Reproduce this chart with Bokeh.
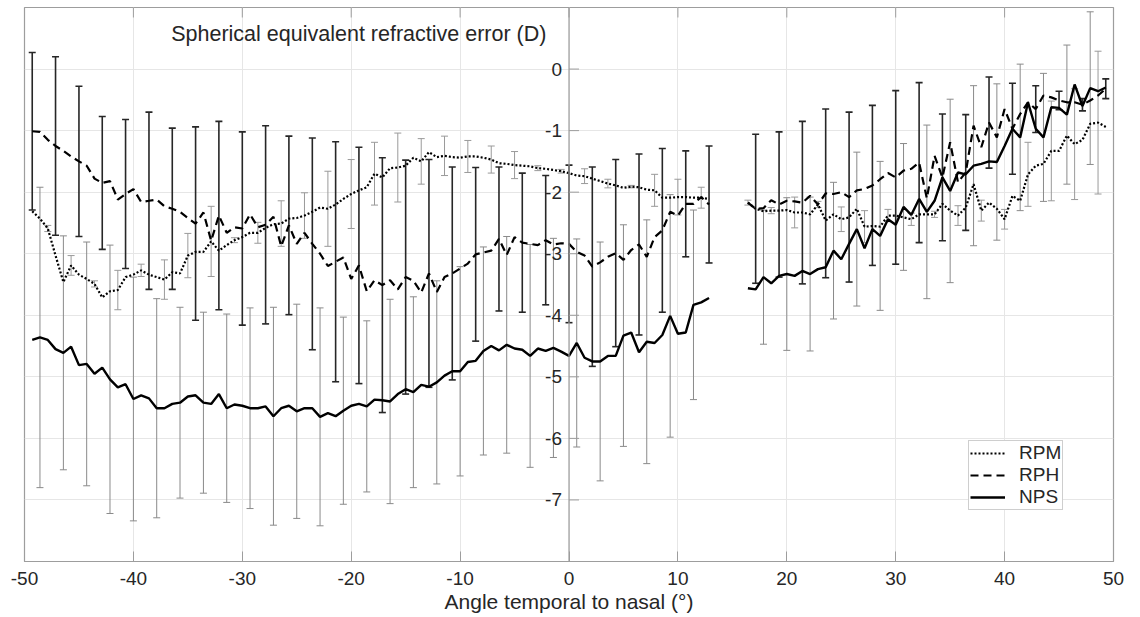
from bokeh.plotting import figure
from bokeh.models import (Range1d, FixedTicker, ColumnDataSource, Whisker, TeeHead,
                          Span, Legend, LegendItem, Label)
from bokeh.core.properties import value
from bokeh.embed import file_html
from bokeh.resources import INLINE
import numpy as np

# ---------------- data ----------------
angle = [-49.29, -48.58, -47.86, -47.15, -46.43, -45.72, -45.00, -44.29, -43.57, -42.86,
         -42.15, -41.43, -40.72, -40.00, -39.29, -38.57, -37.86, -37.15, -36.43, -35.72,
         -35.00, -34.29, -33.57, -32.86, -32.15, -31.43, -30.72, -30.00, -29.29, -28.57,
         -27.86, -27.14, -26.43, -25.72, -25.00, -24.29, -23.57, -22.86, -22.14, -21.43,
         -20.72, -20.00, -19.29, -18.57, -17.86, -17.14, -16.43, -15.72, -15.00, -14.29,
         -13.57, -12.86, -12.14, -11.43, -10.72, -10.00, -9.29, -8.57, -7.86, -7.14,
         -6.43, -5.72, -5.00, -4.29, -3.57, -2.86, -2.14, -1.43, -0.72, 0.00,
         0.71, 1.43, 2.14, 2.86, 3.57, 4.29, 5.00, 5.71, 6.43, 7.14,
         7.86, 8.57, 9.29, 10.00, 10.72, 11.43, 12.14, 12.86, 13.57, 14.29,
         15.00, 15.72, 16.43, 17.14, 17.86, 18.57, 19.29, 20.00, 20.72, 21.43,
         22.14, 22.86, 23.57, 24.29, 25.00, 25.72, 26.43, 27.14, 27.86, 28.57,
         29.29, 30.00, 30.72, 31.43, 32.15, 32.86, 33.57, 34.29, 35.00, 35.72,
         36.43, 37.15, 37.86, 38.57, 39.29, 40.00, 40.72, 41.43, 42.15, 42.86,
         43.57, 44.29, 45.00, 45.72, 46.43, 47.15, 47.86, 48.58, 49.29]

rpm = [-2.31, -2.43, -2.59, -3.03, -3.46, -3.19, -3.34, -3.41, -3.49, -3.71,
       -3.61, -3.59, -3.38, -3.34, -3.27, -3.34, -3.38, -3.42, -3.30, -3.32,
       -3.03, -2.97, -2.97, -2.80, -2.95, -2.86, -2.78, -2.73, -2.66, -2.66,
       -2.58, -2.52, -2.51, -2.43, -2.42, -2.38, -2.32, -2.25, -2.27, -2.20,
       -2.11, -2.03, -1.97, -1.92, -1.70, -1.76, -1.61, -1.60, -1.57, -1.44,
       -1.50, -1.35, -1.43, -1.41, -1.43, -1.44, -1.42, -1.42, -1.44, -1.47,
       -1.53, -1.54, -1.56, -1.57, -1.58, -1.61, -1.62, -1.64, -1.66, -1.69,
       -1.73, -1.74, -1.78, -1.82, -1.86, -1.89, -1.93, -1.91, -1.92, -1.96,
       -1.97, -2.09, -2.09, -2.08, -2.08, -2.09, -2.09, -2.11, None, None,
       None, None, -2.17, -2.27, -2.31, -2.30, -2.30, -2.29, -2.33, -2.33,
       -2.36, -2.20, -2.46, -2.36, -2.44, -2.41, -2.27, -2.56, -2.55, -2.56,
       -2.38, -2.38, -2.41, -2.44, -2.36, -2.36, -2.36, -2.19, -2.30, -2.38,
       -2.25, -1.87, -2.30, -2.17, -2.27, -2.44, -2.06, -2.14, -1.71, -1.57,
       -1.54, -1.33, -1.33, -1.08, -1.22, -1.15, -0.89, -0.87, -0.94]

rph = [-1.01, -1.02, -1.15, -1.25, -1.33, -1.42, -1.50, -1.57, -1.78, -1.85,
       -1.82, -2.12, -2.03, -1.95, -2.16, -2.14, -2.12, -2.23, -2.27, -2.32,
       -2.42, -2.51, -2.33, -2.79, -2.38, -2.66, -2.57, -2.59, -2.36, -2.57,
       -2.53, -2.40, -2.88, -2.54, -2.84, -2.66, -2.84, -3.00, -3.20, -3.13,
       -3.06, -3.41, -3.19, -3.61, -3.43, -3.51, -3.43, -3.58, -3.38, -3.44,
       -3.63, -3.32, -3.62, -3.38, -3.32, -3.24, -3.16, -3.01, -2.98, -2.95,
       -2.76, -3.02, -2.73, -2.82, -2.84, -2.86, -2.78, -2.85, -2.83, -2.84,
       -2.97, -3.03, -3.21, -3.14, -3.05, -2.99, -3.10, -2.94, -2.85, -3.05,
       -2.73, -2.62, -2.32, -2.38, -2.19, -2.19, -2.08, -2.20, None, None,
       None, None, -2.17, -2.27, -2.26, -2.13, -2.20, -2.14, -2.15, -2.17,
       -2.06, -2.20, -2.02, -2.03, -2.00, -2.08, -1.97, -1.95, -1.89, -1.79,
       -1.69, -1.76, -1.65, -1.62, -1.52, -2.10, -1.41, -1.76, -1.19, -1.84,
       -1.68, -0.92, -1.27, -0.87, -1.11, -0.65, -0.97, -0.73, -0.54, -0.65,
       -0.43, -0.46, -0.51, -0.54, -0.54, -0.58, -0.51, -0.43, -0.32]

nps = [-4.40, -4.36, -4.40, -4.55, -4.61, -4.51, -4.81, -4.79, -4.95, -4.85,
       -5.04, -5.17, -5.12, -5.36, -5.30, -5.35, -5.51, -5.51, -5.44, -5.42,
       -5.32, -5.30, -5.42, -5.44, -5.28, -5.51, -5.45, -5.47, -5.51, -5.51,
       -5.48, -5.64, -5.51, -5.47, -5.56, -5.51, -5.51, -5.65, -5.59, -5.64,
       -5.55, -5.47, -5.44, -5.48, -5.37, -5.38, -5.40, -5.28, -5.20, -5.25,
       -5.13, -5.16, -5.09, -4.98, -4.91, -4.91, -4.76, -4.74, -4.58, -4.50,
       -4.57, -4.48, -4.54, -4.56, -4.66, -4.54, -4.58, -4.53, -4.59, -4.66,
       -4.45, -4.69, -4.75, -4.75, -4.66, -4.66, -4.33, -4.28, -4.60, -4.43,
       -4.45, -4.32, -4.01, -4.30, -4.28, -3.83, -3.79, -3.72, None, None,
       None, None, -3.56, -3.58, -3.38, -3.48, -3.36, -3.33, -3.36, -3.28,
       -3.33, -3.25, -3.22, -2.95, -3.09, -2.84, -2.60, -2.91, -2.60, -2.71,
       -2.44, -2.53, -2.24, -2.37, -2.11, -2.32, -2.14, -1.76, -1.98, -1.68,
       -1.71, -1.57, -1.54, -1.50, -1.51, -1.25, -0.97, -1.11, -0.54, -0.97,
       -1.11, -0.62, -0.63, -0.74, -0.25, -0.60, -0.31, -0.36, -0.30]

# standard deviations (error bars are shown on every third sample of each series)
rph_sd = [1.28, None, None, 1.45, None, None, 1.22, None, None, 1.08,
          None, None, 1.21, None, None, 1.44, None, None, 1.31, None,
          None, 1.57, None, None, 1.53, None, None, 1.57, None, None,
          1.61, None, None, 1.45, None, None, 1.72, None, None, 1.95,
          None, None, 1.92, None, None, 2.07, None, None, 1.90, None,
          None, 1.85, None, None, 1.73, None, None, 1.41, None, None,
          1.17, None, None, 1.13, None, None, 1.05, None, None, 1.28,
          None, None, 1.62, None, None, 1.52, None, None, 1.47, None,
          None, 1.33, None, None, 0.86, None, None, 0.95, None, None,
          None, None, None, 1.21, None, None, 1.18, None, None, 1.32,
          None, None, 1.37, None, None, 1.38, None, None, 1.30, None,
          None, 1.41, None, None, 1.30, None, None, 1.03, None, None,
          0.94, None, None, 0.74, None, None, 0.74, None, None, 0.38,
          None, None, 0.15, None, None, 0.10, None, None, 0.16]

nps_sd = [None, 2.44, None, None, 1.90, None, None, 1.98, None, None,
          2.18, None, None, 1.98, None, None, 1.78, None, None, 1.55,
          None, None, 1.47, None, None, 1.53, None, None, 1.63, None,
          None, 1.77, None, None, 1.74, None, None, 1.77, None, None,
          1.52, None, None, 1.39, None, None, 1.66, None, None, 1.55,
          None, None, 1.65, None, None, 1.70, None, None, 1.69, None,
          None, 1.76, None, None, 1.81, None, None, 1.78, None, None,
          1.69, None, None, 1.94, None, None, 1.80, None, None, 1.98,
          None, None, 1.97, None, None, 1.54, None, None, None, None,
          None, None, None, None, 1.09, None, None, 1.24, None, None,
          1.25, None, None, 1.11, None, None, 1.25, None, None, 1.21,
          None, None, 1.03, None, None, 1.41, None, None, 1.49, None,
          None, 1.30, None, None, 1.27, None, None, 1.19, None, None,
          1.04, None, None, 1.13, None, None, 1.24, None, None]

rpm_sd = [None, None, 0.05, None, None, 0.16, None, None, 0.05, None,
          None, 0.32, None, None, 0.10, None, None, 0.32, None, None,
          0.36, None, None, 0.57, None, None, 0.04, None, None, 0.17,
          None, None, 0.37, None, None, 0.37, None, None, 0.61, None,
          None, 0.56, None, None, 0.51, None, None, 0.56, None, None,
          0.37, None, None, 0.32, None, None, 0.26, None, None, 0.22,
          None, None, 0.22, None, None, 0.04, None, None, 0.03, None,
          None, 0.12, None, None, 0.07, None, None, 0.02, None, None,
          0.26, None, None, 0.29, None, None, 0.17, None, None, None,
          None, None, 0.04, None, None, 0.05, None, None, 0.25, None,
          None, 0.05, None, None, 0.20, None, None, 0.26, None, None,
          0.10, None, None, 0.10, None, None, 0.05, None, None, 0.16,
          None, None, 0.17, None, None, 0.16, None, None, 0.52, None,
          None, 0.81, None, None, 0.90, None, None, 1.16, None]

series_names = ["RPM", "RPH", "NPS"]
x_ticks = [-50, -40, -30, -20, -10, 0, 10, 20, 30, 40, 50]
x_tick_labels = ["-50", "-40", "-30", "-20", "-10", "0", "10", "20", "30", "40", "50"]
y_ticks = [-7, -6, -5, -4, -3, -2, -1, 0]
y_tick_labels = ["-7", "-6", "-5", "-4", "-3", "-2", "-1", "0"]
y_grid = [-8, -7, -6, -5, -4, -3, -2, -1, 0, 1]
title_text = "Spherical equivalent refractive error (D)"
x_label = "Angle temporal to nasal (\u00b0)"

# ---------------- styling ----------------
FONT = "Liberation Sans"
TXT = "#262626"
AX = "#9d9d9d"

p = figure(width=1140, height=617, output_backend="svg", toolbar_location=None,
           x_range=Range1d(-50, 50), y_range=Range1d(-8, 1),
           y_axis_location=None, x_axis_location="below")
p.min_border_left = 24
p.min_border_right = 27
p.min_border_top = 7
p.min_border_bottom = 56
p.background_fill_color = "white"
p.border_fill_color = "white"
p.outline_line_color = AX
p.outline_line_width = 1.2

p.xgrid.ticker = FixedTicker(ticks=x_ticks)
p.ygrid.ticker = FixedTicker(ticks=y_grid)
p.xgrid.grid_line_color = "#e6e6e6"
p.ygrid.grid_line_color = "#e6e6e6"

xa = p.xaxis[0]
xa.ticker = FixedTicker(ticks=x_ticks)
xa.major_label_overrides = {t: s for t, s in zip(x_ticks, x_tick_labels)}
xa.major_tick_in = 10
xa.major_tick_out = 0
xa.minor_tick_line_color = None
xa.major_tick_line_color = AX
xa.axis_line_color = AX
xa.major_label_text_font = FONT
xa.major_label_text_font_size = "19px"
xa.major_label_text_color = TXT
xa.major_label_standoff = 10
xa.axis_label = x_label
xa.axis_label_text_font = FONT
xa.axis_label_text_font_size = "21px"
xa.axis_label_text_font_style = "normal"
xa.axis_label_text_color = TXT
xa.axis_label_standoff = 2

# top tick marks
tick_len_y = 10 / 61.57
p.segment(x0=x_ticks[1:-1], x1=x_ticks[1:-1], y0=[1] * 9, y1=[1 - tick_len_y] * 9,
          line_color=AX, line_width=1)

# y axis through x = 0
p.add_layout(Span(location=0, dimension="height", line_color=AX, line_width=1.2))
tick_len_x = 10 / 10.89
p.segment(x0=[0] * len(y_ticks), x1=[tick_len_x] * len(y_ticks), y0=y_ticks, y1=y_ticks,
          line_color=AX, line_width=1)
p.text(x=[0] * len(y_ticks), y=y_ticks, text=y_tick_labels, x_offset=-7,
       text_align="right", text_baseline="middle", text_font=value(FONT),
       text_font_size="19px", text_color=TXT)

# title inside the plot
p.add_layout(Label(x=-19.3, y=0.57, text=title_text, text_align="center",
                   text_baseline="middle", text_font=FONT, text_font_size="21.5px",
                   text_color=TXT))

x = np.array(angle, dtype=float)
data = {"RPM": np.array(rpm, dtype=float),
        "RPH": np.array(rph, dtype=float),
        "NPS": np.array(nps, dtype=float)}
sds = {"RPM": rpm_sd, "RPH": rph_sd, "NPS": nps_sd}
bar_style = {"RPM": ("#9a9a9a", 1.0), "RPH": ("#262626", 1.6), "NPS": ("#8a8a8a", 1.0)}

for name in ["NPS", "RPM", "RPH"]:
    xs, up, lo = [], [], []
    for xi, m, s in zip(angle, data[name], sds[name]):
        if s is not None and not np.isnan(m):
            xs.append(xi)
            up.append(m + s)
            lo.append(m - s)
    src = ColumnDataSource(dict(x=xs, upper=up, lower=lo))
    col, w = bar_style[name]
    p.add_layout(Whisker(source=src, base="x", upper="upper", lower="lower",
                         line_color=col, line_width=w,
                         upper_head=TeeHead(size=7, line_color=col, line_width=w),
                         lower_head=TeeHead(size=7, line_color=col, line_width=w)))

line_style = {"RPM": "2 2", "RPH": "8 5", "NPS": "solid"}
line_width = {"RPM": 2.2, "RPH": 2.2, "NPS": 2.4}
renderers = {}
for name in ["NPS", "RPH", "RPM"]:
    renderers[name] = p.line(x, data[name], line_color="black", line_width=line_width[name],
                             line_dash=line_style[name])

legend = Legend(items=[LegendItem(label=n, renderers=[renderers[n]]) for n in series_names],
                location=(944, 51))
legend.glyph_width = 35
legend.glyph_height = 20
legend.label_height = 20
legend.label_standoff = 14
legend.padding = 1
legend.spacing = 0
legend.margin = 0
legend.label_text_font = FONT
legend.label_text_font_size = "19px"
legend.label_text_color = TXT
legend.border_line_color = AX
legend.border_line_width = 1
legend.background_fill_color = "white"
legend.background_fill_alpha = 1
p.add_layout(legend, "center")

open("out.html", "w").write(file_html(p, INLINE))
